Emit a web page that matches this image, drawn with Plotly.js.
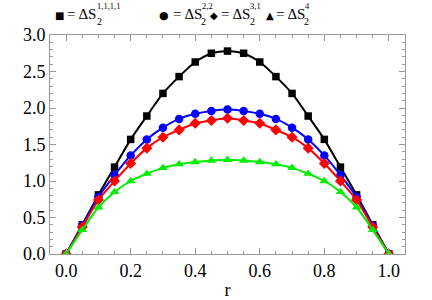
<!DOCTYPE html>
<html>
<head>
<meta charset="utf-8">
<script src="https://cdn.plot.ly/plotly-3.0.1.min.js"></script>
<style>html,body{margin:0;padding:0;background:#fff}#chart{width:432px;height:300px}</style>
</head>
<body>
<div id="chart"></div>
<script>
const r = [0,0.05,0.1,0.15,0.2,0.25,0.3,0.35,0.4,0.45,0.5,0.55,0.6,0.65,0.7,0.75,0.8,0.85,0.9,0.95,1.0];
const s1111 = [0,0.40,0.81,1.19,1.57,1.89,2.20,2.43,2.63,2.75,2.78,2.75,2.63,2.43,2.20,1.89,1.57,1.19,0.81,0.40,0];
const s22   = [0,0.39,0.78,1.08,1.35,1.57,1.73,1.85,1.92,1.96,1.98,1.96,1.92,1.85,1.73,1.57,1.35,1.08,0.78,0.39,0];
const s31   = [0,0.37,0.74,1.00,1.24,1.45,1.60,1.70,1.79,1.83,1.86,1.83,1.79,1.70,1.60,1.45,1.24,1.00,0.74,0.37,0];
const s4    = [0,0.33,0.64,0.85,1.00,1.10,1.18,1.23,1.26,1.28,1.29,1.28,1.26,1.23,1.18,1.10,1.00,0.85,0.64,0.33,0];
const xTicks = [0,0.2,0.4,0.6,0.8,1.0];
const yTicks = [0,0.5,1.0,1.5,2.0,2.5,3.0];
const legendSymbols = ['\u25A0','\u25CF','\u25C6','\u25B2'];
const legendSups = ['1,1,1,1','2,2','3,1','4'];

const SERIF = 'Liberation Serif, Times New Roman, serif';

const series = [
  {y:s1111, color:'#000000', symbol:'square', size:7.5},
  {y:s22,   color:'#0000ff', symbol:'circle', size:8.5},
  {y:s31,   color:'#ff0000', symbol:'diamond', size:8.5},
  {y:s4,    color:'#00ee00', symbol:'triangle-up', size:8.5}
];
const traces = series.map(s => ({
  x:r, y:s.y, type:'scatter', mode:'lines+markers',
  line:{color:s.color, width:2, shape:'spline', smoothing:0.6},
  marker:{color:s.color, symbol:s.symbol, size:s.size},
  showlegend:false, hoverinfo:'skip'
}));

const L=50, R=405, T=34.7, B=254;
const px = v => (v-L)/(R-L);
const py = v => (B-v)/(B-T);
const symX = [59.7,164.2,214,269.5];
const eqX = [66,171.5,220,274.5];
const subX = [95.5,200,248.5,303];
const ann = [];
for (let i=0;i<4;i++){
  ann.push({xref:'paper',yref:'paper',x:px(symX[i]),y:py(14.7),xanchor:'center',yanchor:'middle',borderpad:0,
    text:legendSymbols[i],showarrow:false,font:{family:'DejaVu Sans',size:i===1?11:10,color:'#000'}});
  ann.push({xref:'paper',yref:'paper',x:px(eqX[i]),y:py(13.5),xanchor:'left',yanchor:'middle',borderpad:0,
    text:'= \u0394S',showarrow:false,font:{family:SERIF,size:15,color:'#000'}});
  ann.push({xref:'paper',yref:'paper',x:px(subX[i]),y:py(21),xanchor:'left',yanchor:'middle',borderpad:0,
    text:'2',showarrow:false,font:{family:SERIF,size:10,color:'#000'}});
  ann.push({xref:'paper',yref:'paper',x:px(subX[i]+0.5),y:py(5.5),xanchor:'left',yanchor:'middle',borderpad:0,
    text:legendSups[i],showarrow:false,font:{family:SERIF,size:8.5,color:'#000'}});
}

const axisCommon = {
  showline:true, linecolor:'#999', linewidth:1, mirror:'allticks',
  ticks:'inside', ticklen:6, tickwidth:1, tickcolor:'#999',
  showgrid:false, zeroline:false,
  tickfont:{family:SERIF, size:18, color:'#000'},
  tickformat:'.1f'
};
const layout = {
  width:432, height:300,
  margin:{l:L, r:432-R, t:T, b:300-B},
  paper_bgcolor:'#fff', plot_bgcolor:'#fff',
  font:{family:SERIF},
  xaxis:Object.assign({}, axisCommon, {
    range:[-0.05,1.05], tickvals:xTicks,
    minor:{dtick:0.05, tick0:0, ticks:'inside', ticklen:3, tickcolor:'#999'},
    title:{text:'r', font:{family:SERIF, size:18, color:'#000'}, standoff:5}
  }),
  yaxis:Object.assign({}, axisCommon, {
    range:[0,3], tickvals:yTicks,
    minor:{dtick:0.1, tick0:0, ticks:'inside', ticklen:3, tickcolor:'#999'}
  }),
  annotations:ann
};
Plotly.newPlot('chart', traces, layout, {staticPlot:true});
</script>
</body>
</html>
